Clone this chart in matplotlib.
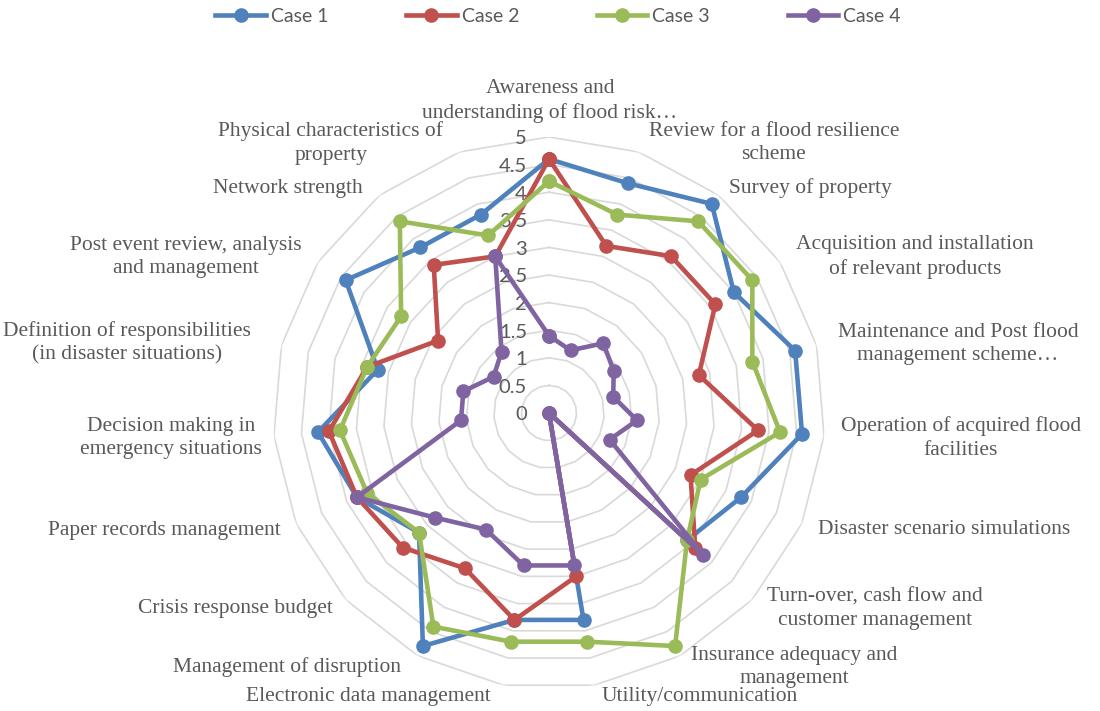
import numpy as np
import matplotlib.pyplot as plt
from matplotlib.transforms import offset_copy

# categories, clockwise from the top
categories = [
    "Awareness and\nunderstanding of flood risk…",
    "Review for a flood resilience\nscheme",
    "Survey of property",
    "Acquisition and installation\nof relevant products",
    "Maintenance and Post flood\nmanagement scheme…",
    "Operation of acquired flood\nfacilities",
    "Disaster scenario simulations",
    "Turn-over, cash flow and\ncustomer management",
    "Insurance adequacy and\nmanagement",
    "Utility/communication",
    "Electronic data management",
    "Management of disruption",
    "Crisis response budget",
    "Paper records management",
    "Decision making in\nemergency situations",
    "Definition of responsibilities\n(in disaster situations)",
    "Post event review, analysis\nand management",
    "Network strength",
    "Physical characteristics of\nproperty",
]

case1 = [4.6, 4.4, 4.8, 4.0, 4.6, 4.6, 3.8, 3.4, 0, 3.8, 3.8, 4.8, 3.2, 3.8, 4.2, 3.2, 4.4, 3.8, 3.8]
case2 = [4.6, 3.2, 3.6, 3.6, 2.8, 3.8, 2.8, 3.6, 0, 3.0, 3.8, 3.2, 3.6, 3.8, 4.0, 3.4, 2.4, 3.4, 3.0]
case3 = [4.2, 3.8, 4.4, 4.4, 3.8, 4.2, 3.0, 3.4, 4.8, 4.2, 4.2, 4.4, 3.2, 3.6, 3.8, 3.4, 3.2, 4.4, 3.4]
case4 = [1.4, 1.2, 1.6, 1.4, 1.2, 1.6, 1.2, 3.8, 0, 2.8, 2.8, 2.4, 2.8, 3.8, 1.6, 1.6, 1.2, 1.4, 3.0]

series_names = ["Case 1", "Case 2", "Case 3", "Case 4"]
levels = [0, 0.5, 1, 1.5, 2, 2.5, 3, 3.5, 4, 4.5, 5]
level_labels = ["0", "0.5", "1", "1.5", "2", "2.5", "3", "3.5", "4", "4.5", "5"]

colors = ["#4F81BD", "#C0504D", "#9BBB59", "#8064A2"]
text_grey = "#595959"
grid_grey = "#D9D9D9"

W, H = 1100, 711
fig = plt.figure(figsize=(W / 100, H / 100), dpi=100)

# polar area: centre (549, 413) px, radius 276 px
cx, cy, rad = 549, 413, 276
ax = fig.add_axes([(cx - rad) / W, (H - cy - rad) / H, 2 * rad / W, 2 * rad / H],
                  projection="polar")
ax.set_theta_offset(np.pi / 2)
ax.set_theta_direction(-1)
ax.set_ylim(0, 5)
ax.set_xticks([])
ax.set_yticks([])
ax.grid(False)
ax.spines["polar"].set_visible(False)
ax.patch.set_alpha(0)

n = len(categories)
angles = np.arange(n) * 2 * np.pi / n
closed = np.append(angles, angles[0])

# polygon gridlines
for lv in levels[1:]:
    ax.plot(closed, [lv] * (n + 1), color=grid_grey, lw=1.2, zorder=1)

# value axis labels
lab_tr = offset_copy(ax.transData, fig=fig, x=-22, y=-2, units="dots")
for lv, lab in zip(levels, level_labels):
    ax.text(0, lv, lab, transform=lab_tr, ha="right", va="center",
            fontsize=14.5, color=text_grey, family="Lato", zorder=2)

handles = []
for name, vals, col in zip(series_names, [case1, case2, case3, case4], colors):
    h, = ax.plot(closed, np.append(vals, vals[0]), color=col, lw=3.3,
                 marker="o", markersize=9.5, label=name, zorder=3)
    handles.append(h)

# category labels (pixel centres)
label_pos = [(550, 101), (774, 143), (810, 188), (915, 257), (958, 344),
             (961, 438), (944, 530), (875, 609), (794, 667), (700, 697),
             (368, 697), (287, 667), (235, 609), (164, 530), (171, 438),
             (127, 343), (186, 257), (288, 188), (331, 143)]
for lab, (px, py) in zip(categories, label_pos):
    fig.text(px / W, 1 - py / H, lab, ha="center", va="center",
             fontsize=15.5, color=text_grey, family="Liberation Serif",
             linespacing=1.3)

fig.legend(handles=handles, loc="center", bbox_to_anchor=(558 / W, 1 - 16 / H),
           ncol=4, frameon=False, handlelength=2.6, handletextpad=0.25,
           columnspacing=4.0, prop={"family": "Lato", "size": 14},
           labelcolor=text_grey)

fig.savefig("out.png", dpi=100, facecolor="white")
